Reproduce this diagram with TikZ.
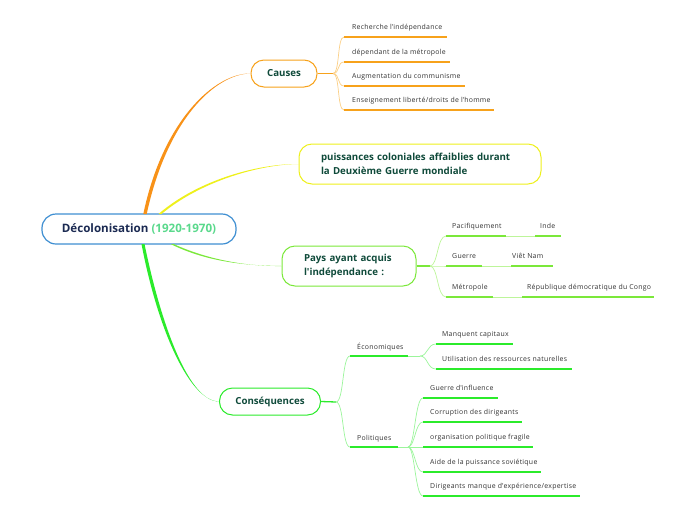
\documentclass[tikz,border=0pt]{standalone}
\usepackage{fontspec}
\setmainfont{Open Sans}
\newfontfamily\leaffont[LetterSpace=4]{Open Sans}
\newcommand\apos{\textquotesingle}
\definecolor{rootblue}{HTML}{3F8FD2}
\definecolor{rootnavy}{HTML}{1B2A52}
\definecolor{yearsgreen}{HTML}{5AD98C}
\definecolor{titlegreen}{HTML}{0F4A3A}
\definecolor{leafgray}{HTML}{333333}
\definecolor{causeorange}{HTML}{F7A21B}
\definecolor{causelight}{HTML}{FBCF86}
\definecolor{waryellow}{HTML}{EEF01C}
\definecolor{paysgreen}{HTML}{7BE83A}
\definecolor{payslight}{HTML}{BDF59A}
\definecolor{consgreen}{HTML}{2BEB2B}
\definecolor{conslight}{HTML}{9BF59B}
\begin{document}
\begin{tikzpicture}[x=1pt,y=-1pt,
  topic/.style={draw,line width=1pt,fill=white,rounded corners=13pt,inner sep=0pt,
    font=\bfseries\fontsize{9.7}{14}\selectfont,text=titlegreen,align=left},
  leaf/.style={anchor=base west,inner sep=0pt,font=\leaffont\fontsize{6.9}{8}\selectfont,text=leafgray},
  uline/.style={line width=1.3pt},
  cline/.style={line width=0.7pt}]
\useasboundingbox (0,0) rectangle (696,520);

% centre
\node[draw=rootblue,line width=1.2pt,fill=white,rounded corners=14pt,minimum width=194pt,minimum height=30pt,inner sep=0pt,
  font=\bfseries\fontsize{11.6}{13}\selectfont,text=rootnavy] (root) at (139,229) {Décolonisation \textcolor{yearsgreen}{(1920-1970)}};

% main topics
\node[topic,draw=causeorange,minimum width=66pt,minimum height=27pt] (causes) at (284,73.5) {Causes};
\node[topic,draw=waryellow,minimum width=242pt,minimum height=40pt,text width=198pt] (guerre) at (420,164)
  {puissances coloniales affaiblies durant\\la Deuxième Guerre mondiale};
\node[topic,draw=paysgreen,minimum width=134pt,minimum height=40pt,text width=90pt] (pays) at (349,266)
  {Pays ayant acquis\\l\apos indépendance :};
\node[topic,draw=consgreen,minimum width=101pt,minimum height=27pt] (cons) at (270,401.5) {Conséquences};

% branches from the centre
\fill[causeorange!90!red] (143.3,214) .. controls (163,120) and (215,73) .. (causes.west)
  .. controls (215,74) and (167,120) .. (146.7,214) -- cycle;
\fill[waryellow] (158.5,214) .. controls (199,179) and (260,163.6) .. (guerre.west)
  .. controls (260,164.4) and (201,181) .. (161.5,214) -- cycle;
\fill[paysgreen] (170.5,244) .. controls (209,263) and (250,265.6) .. (pays.west)
  .. controls (250,266.4) and (211,261) .. (173.5,244) -- cycle;
\fill[consgreen] (141.5,244) .. controls (158,331) and (190,401.1) .. (cons.west)
  .. controls (190,401.9) and (162,329) .. (144.5,244) -- cycle;

% causes
\coordinate (jc) at (333,73.5);
\draw[causeorange,uline] (causes.east) -- (jc);
\foreach \y/\e/\t in {37/447/{Recherche l\apos indépendance},62/450/{dépendant de la métropole},
    86/465/{Augmentation du communisme},110/494/{Enseignement liberté/droits de l\apos homme}}{
  \draw[causelight,cline] (jc) .. controls (340,73.5) and (337,\y) .. (344,\y);
  \draw[causeorange,uline] (344,\y) -- (\e,\y);
  \node[leaf] at (352,\y-7.5) {\t};
}

% pays
\coordinate (jp) at (430,266);
\draw[paysgreen,uline] (pays.east) -- (jp);
\foreach \y/\a/\b/\c/\e/\s/\t in {236/506/535/540/561/Pacifiquement/Inde,
    266/482/511/512/553/Guerre/Viêt Nam,
    297/493/522/527/654/Métropole/République démocratique du Congo}{
  \draw[payslight,cline] (jp) .. controls (438,266) and (437,\y) .. (446,\y);
  \draw[paysgreen,uline] (446,\y) -- (\a,\y);
  \draw[payslight,cline] (\a,\y) -- (\b,\y);
  \draw[paysgreen,uline] (\b,\y) -- (\e,\y);
  \node[leaf] at (452,\y-7.5) {\s};
  \node[leaf] at (\c,\y-7.5) {\t};
}

% consequences
\coordinate (jk) at (336,402);
\draw[consgreen,uline] (cons.east) -- (jk);
\draw[conslight,cline] (jk) .. controls (344,402) and (342,356) .. (350,356);
\draw[conslight,cline] (jk) .. controls (344,402) and (342,447) .. (350,447);
\draw[consgreen,uline] (350,356) -- (408,356);
\draw[consgreen,uline] (350,447) -- (398,447);
\node[leaf] (eco) at (357,349) {Économiques};
\node[leaf] (pol) at (357,440) {Politiques};

\coordinate (je) at (420,356);
\draw[conslight,cline] (408,356) -- (je);
\foreach \y/\e/\t in {344/513/{Manquent capitaux},369/572/{Utilisation des ressources naturelles}}{
  \draw[conslight,cline] (je) .. controls (428,356) and (427,\y) .. (436,\y);
  \draw[consgreen,uline] (436,\y) -- (\e,\y);
  \node[leaf] at (442,\y-7.5) {\t};
}

\coordinate (jq) at (408,447);
\draw[conslight,cline] (398,447) -- (jq);
\foreach \y/\e/\t in {398/498/{Guerre d\apos influence},422/522/{Corruption des dirigeants},
    447/533/{organisation politique fragile},472/541/{Aide de la puissance soviétique},
    496/580/{Dirigeants manque d\apos expérience/expertise}}{
  \draw[conslight,cline] (jq) .. controls (415,447) and (415,\y) .. (423,\y);
  \draw[consgreen,uline] (423,\y) -- (\e,\y);
  \node[leaf] at (430,\y-7.5) {\t};
}
\end{tikzpicture}
\end{document}
